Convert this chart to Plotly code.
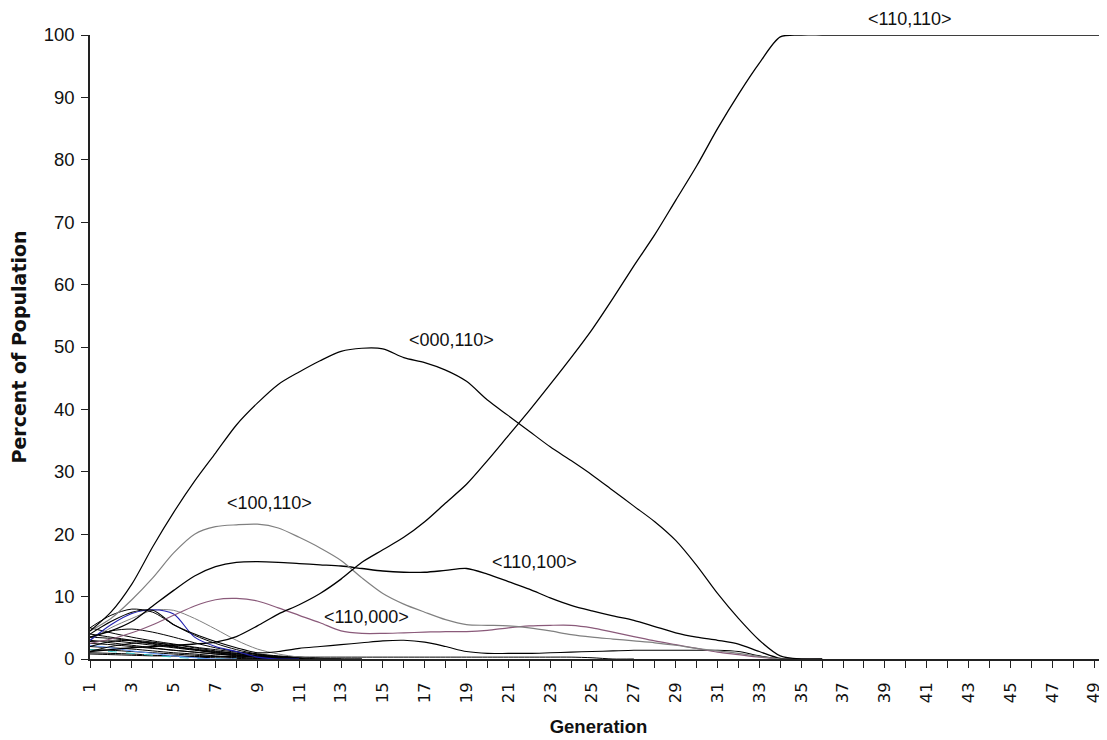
import plotly.graph_objects as go

generations = list(range(1, 51))

s_110_110 = [1.2, 1.5, 1.8, 2.0, 2.2, 2.4, 2.7, 3.6, 5.3, 7.2,
             8.7, 10.5, 12.8, 15.5, 17.5, 19.5, 22.0, 25.0, 28.0, 31.8,
             35.8, 39.8, 44.0, 48.3, 52.8, 57.8, 63.0, 68.0, 73.5, 79.0,
             85.0, 90.5, 95.5, 99.7, 100, 100, 100, 100, 100, 100,
             100, 100, 100, 100, 100, 100, 100, 100, 100, 100]
s_000_110 = [4.5, 7.5, 12.0, 18.0, 23.5, 28.5, 33.0, 37.5, 41.0, 44.0,
             46.0, 47.8, 49.3, 49.8, 49.7, 48.3, 47.5, 46.3, 44.5, 41.5,
             39.0, 36.5, 34.0, 31.8, 29.5, 27.0, 24.5, 22.0, 19.0, 15.0,
             10.5, 6.5, 3.0, 0.5, 0, 0]
s_100_110 = [4.5, 6.5, 9.5, 13.0, 17.0, 20.0, 21.2, 21.5, 21.6, 21.0,
             19.5, 17.8, 15.8, 13.0, 10.5, 8.8, 7.5, 6.3, 5.5, 5.4,
             5.3, 5.0, 4.5, 3.9, 3.5, 3.2, 2.9, 2.6, 2.2, 1.7,
             1.3, 0.9, 0.4, 0, 0, 0]
s_110_100 = [3.5, 4.5, 6.0, 8.5, 11.0, 13.3, 14.8, 15.5, 15.6, 15.5,
             15.3, 15.1, 14.9, 14.5, 14.1, 13.9, 13.9, 14.2, 14.5, 13.6,
             12.4, 11.2, 9.8, 8.6, 7.7, 6.9, 6.2, 5.2, 4.2, 3.5,
             3.0, 2.4, 1.2, 0.1, 0, 0]
s_110_000 = [2.5, 3.2, 4.2, 5.5, 7.0, 8.5, 9.5, 9.7, 9.3, 8.2,
             7.0, 5.8, 4.5, 4.1, 4.1, 4.2, 4.3, 4.4, 4.4, 4.6,
             5.0, 5.3, 5.4, 5.4, 5.0, 4.3, 3.6, 2.9, 2.3, 1.7,
             1.1, 0.7, 0.3, 0, 0, 0]
s_low_hump = [4.0, 6.0, 7.5, 7.8, 5.5, 4.0, 2.8, 1.8, 1.0, 1.2,
              1.7, 2.0, 2.3, 2.6, 2.9, 3.0, 2.7, 2.0, 1.2, 0.9,
              0.9, 0.9, 1.0, 1.1, 1.2, 1.3, 1.4, 1.4, 1.4, 1.4,
              1.4, 1.2, 0.5, 0, 0, 0]
s_blue = [3.0, 5.5, 7.3, 7.9, 7.2, 3.5, 2.0, 1.2, 0.3, 0, 0]
s_early_a = [5.0, 7.0, 8.0, 7.5, 5.5, 3.8, 2.5, 1.5, 0.8, 0.4, 0.2, 0, 0]
s_early_b = [3.0, 5.0, 6.5, 7.8, 7.8, 6.5, 4.8, 3.0, 1.6, 0.8, 0.3, 0, 0]
s_dec_1 = [4.0, 3.5, 3.0, 2.5, 2.0, 1.6, 1.2, 0.9, 0.6, 0.4, 0.2, 0.1, 0, 0]
s_dec_2 = [3.0, 2.6, 2.2, 1.8, 1.4, 1.1, 0.8, 0.5, 0.3, 0.1, 0, 0]
s_dec_3 = [2.5, 2.3, 2.0, 1.7, 1.4, 1.1, 0.8, 0.6, 0.4, 0.2, 0.1, 0, 0]
s_dec_4 = [2.0, 1.8, 1.6, 1.3, 1.0, 0.8, 0.5, 0.3, 0.1, 0, 0]
s_dec_5 = [1.5, 1.4, 1.2, 1.0, 0.8, 0.6, 0.4, 0.2, 0.1, 0, 0]
s_dec_6 = [1.0, 0.9, 0.8, 0.6, 0.5, 0.3, 0.2, 0.1, 0, 0]
s_dec_7 = [5.0, 4.2, 3.5, 2.9, 2.4, 1.9, 1.5, 1.1, 0.8, 0.5, 0.3, 0.1, 0, 0]
s_dec_8 = [3.5, 3.3, 2.9, 2.4, 1.9, 1.5, 1.1, 0.8, 0.5, 0.3, 0.1, 0, 0]
s_dec_9 = [2.8, 2.9, 2.6, 2.2, 1.8, 1.4, 1.0, 0.7, 0.4, 0.2, 0, 0]
s_bump_1 = [3.5, 4.5, 4.8, 4.3, 3.5, 2.6, 1.8, 1.2, 0.7, 0.3, 0.1, 0, 0]
s_bump_2 = [2.0, 2.8, 3.0, 2.7, 2.1, 1.5, 1.0, 0.6, 0.3, 0.1, 0, 0]
s_bump_3 = [1.2, 2.0, 2.5, 2.6, 2.3, 1.8, 1.3, 0.9, 0.5, 0.2, 0, 0]
s_cyan = [1.5, 1.2, 0.9, 0.6, 0.3, 0.1, 0, 0]
s_lightblue = [2.2, 1.8, 1.3, 0.9, 0.5, 0.2, 0, 0]
s_tail = [0.8, 0.7, 0.6, 0.5, 0.5, 0.4, 0.4, 0.4, 0.3, 0.3,
          0.3, 0.3, 0.3, 0.3, 0.3, 0.3, 0.3, 0.3, 0.3, 0.3,
          0.3, 0.3, 0.3, 0.3, 0.2, 0, 0]

x_tick_vals = list(range(1, 50))
x_tick_text = [str(g) if g % 2 == 1 else "" for g in x_tick_vals]
y_tick_vals = [0, 10, 20, 30, 40, 50, 60, 70, 80, 90, 100]

labels = ["<110,110>", "<000,110>", "<100,110>", "<110,100>", "<110,000>"]
label_x = [40.16, 18.29, 9.6, 22.25, 14.23]
label_y = [102.6, 51.1, 25.0, 15.5, 6.7]

series = [
    (s_tail, "#000000", "solid", 1.0),
    (s_dec_1, "#000000", "solid", 1.0),
    (s_dec_2, "#000000", "solid", 1.0),
    (s_dec_3, "#000000", "solid", 1.0),
    (s_dec_4, "#000000", "solid", 1.0),
    (s_dec_5, "#000000", "solid", 1.0),
    (s_dec_6, "#000000", "solid", 1.0),
    (s_dec_7, "#000000", "solid", 1.0),
    (s_dec_8, "#000000", "solid", 1.0),
    (s_dec_9, "#000000", "solid", 1.0),
    (s_cyan, "#33cccc", "dash", 1.0),
    (s_lightblue, "#6699ff", "solid", 1.0),
    (s_bump_1, "#000000", "solid", 1.0),
    (s_bump_2, "#000000", "solid", 1.0),
    (s_bump_3, "#000000", "solid", 1.0),
    (s_early_b, "#808080", "solid", 1.0),
    (s_early_a, "#000000", "solid", 1.0),
    (s_blue, "#2020b0", "solid", 1.1),
    (s_low_hump, "#000000", "solid", 1.1),
    (s_110_000, "#8a5a7a", "solid", 1.2),
    (s_110_100, "#000000", "solid", 1.3),
    (s_100_110, "#808080", "solid", 1.2),
    (s_000_110, "#000000", "solid", 1.2),
    (s_110_110, "#000000", "solid", 1.3),
]

SANS = "Liberation Sans, Arial, sans-serif"
WIDE = "DejaVu Sans, Verdana, sans-serif"

fig = go.Figure()
for vals, color, dash, w in series:
    fig.add_trace(go.Scatter(
        x=generations[:len(vals)], y=vals, mode="lines",
        line=dict(color=color, width=w, dash=dash, shape="spline", smoothing=0.8),
        showlegend=False, hoverinfo="skip"))

for t, ax, ay in zip(labels, label_x, label_y):
    fig.add_annotation(x=ax, y=ay / 100.0, text=t, showarrow=False, xref="x", yref="paper",
                       xanchor="center", yanchor="middle",
                       font=dict(family=SANS, size=18, color="#111111"))

fig.update_layout(
    width=1099, height=732,
    margin=dict(l=80, r=0, t=27, b=81),
    paper_bgcolor="white", plot_bgcolor="white",
    font=dict(family=SANS, color="#111111"),
    xaxis=dict(range=[1, 49.62], tickvals=x_tick_vals, ticktext=x_tick_text,
               tickangle=-90, ticks="outside", ticklen=7, tickcolor="#222222",
               tickfont=dict(family=WIDE, size=16.5), showline=True, linecolor="#222222",
               linewidth=1.5, showgrid=False, zeroline=False, ticklabelstandoff=8,
               title=dict(text="<b>Generation</b>", font=dict(family=SANS, size=18.5), standoff=18)),
    yaxis=dict(range=[0, 100], tickvals=y_tick_vals, ticks="outside", ticklen=7,
               tickcolor="#222222", tickfont=dict(family=SANS, size=18.5), showline=True,
               linecolor="#222222", linewidth=1.5, showgrid=False, zeroline=False,
               ticklabelstandoff=3,
               title=dict(text="<b>Percent of Population</b>", font=dict(family=WIDE, size=19), standoff=22)),
)

fig.write_html("out.html")
